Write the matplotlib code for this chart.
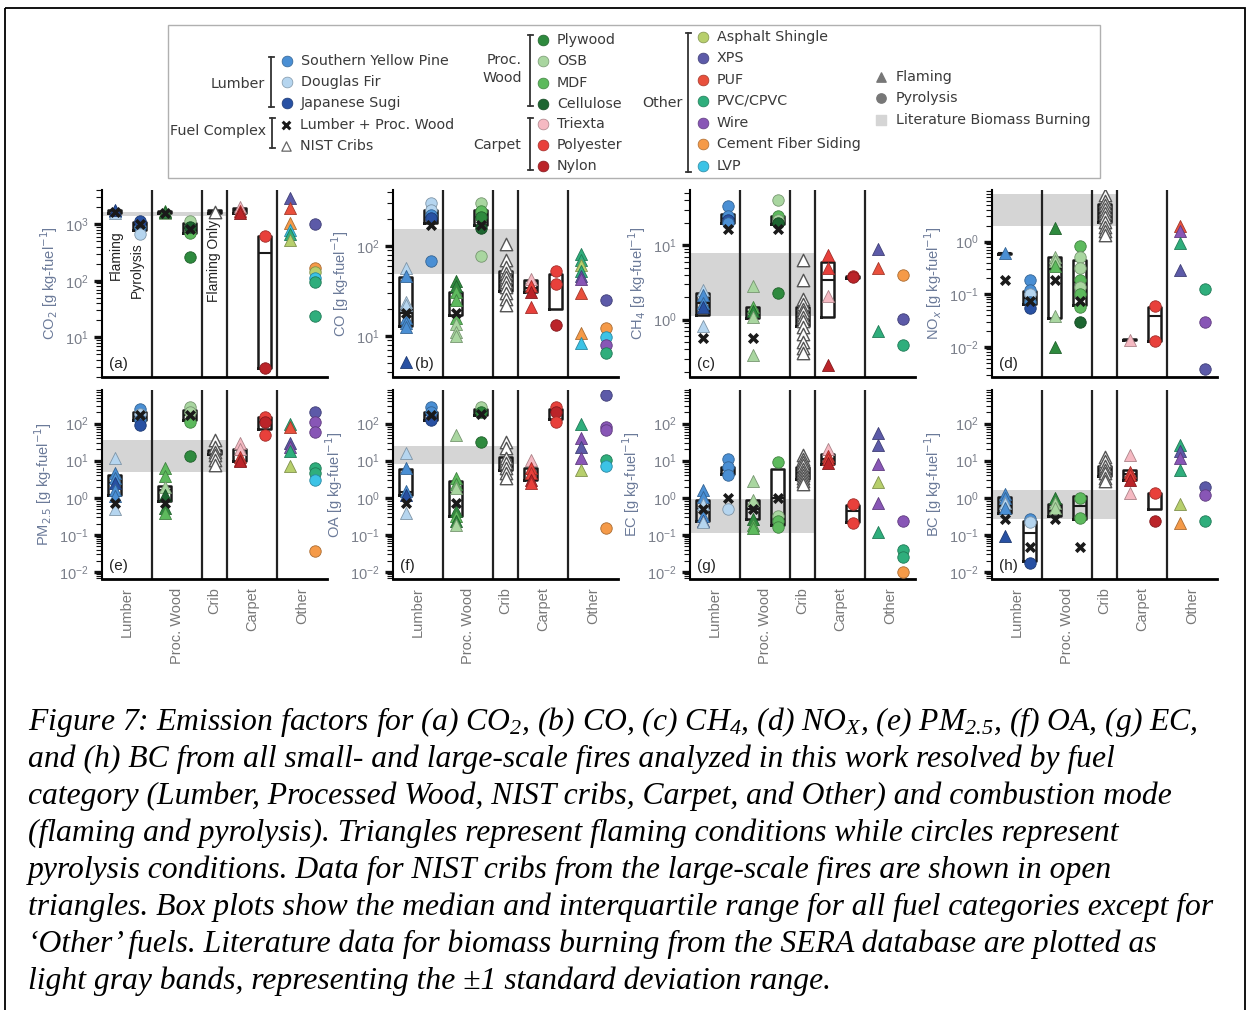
import numpy as np
import matplotlib
matplotlib.use('Agg')
import matplotlib.pyplot as plt
from matplotlib.ticker import LogLocator, NullFormatter, LogFormatterMathtext
from matplotlib.colors import to_rgb
from matplotlib.patches import Rectangle

plt.rcParams['font.family'] = ['Liberation Sans', 'DejaVu Sans']
plt.rcParams['mathtext.rm'] = 'Liberation Serif:italic'
plt.rcParams['mathtext.it'] = 'Liberation Serif:italic'

# fuel colours
colors = {
    'SYP': '#4a8fd4', 'DF': '#b5d5ef', 'JS': '#2851a3',
    'PLY': '#2e8a3e', 'OSB': '#a9d6a0', 'MDF': '#5dba5d', 'CEL': '#1d6631',
    'TRI': '#f5b9c2', 'POL': '#e8403b', 'NYL': '#bb2429',
    'ASP': '#b7cf6c', 'XPS': '#5c5aa8', 'PUF': '#e9503c', 'PVC': '#2fae7c',
    'WIR': '#8856b6', 'CFS': '#f59a48', 'LVP': '#3cc3e6',
}

categories = ['Lumber', 'Proc. Wood', 'Crib', 'Carpet', 'Other']
cat_pos = [1.5, 3.5, 5, 6.5, 8.5]
flaming_x = [1, 3, 6, 8]

# (x position, fuel, emission factor)
co2_pts = [(1, 'SYP', 1700), (1, 'DF', 1600), (1, 'JS', 1800), (1, 'LPW', 1650),
           (2, 'SYP', 900), (2, 'DF', 680), (2, 'JS', 1130), (2, 'LPW', 1000),
           (3, 'MDF', 1700), (3, 'OSB', 1550), (3, 'PLY', 1650), (3, 'LPW', 1600),
           (4, 'OSB', 1130), (4, 'MDF', 700), (4, 'PLY', 260), (4, 'CEL', 900), (4, 'LPW', 820),
           (5, 'NIST', 1650),
           (6, 'TRI', 2000), (6, 'POL', 1700), (6, 'NYL', 1600),
           (7, 'POL', 610), (7, 'NYL', 2.9),
           (8, 'XPS', 2900), (8, 'PUF', 1900), (8, 'CFS', 1050), (8, 'LVP', 780), (8, 'PVC', 680), (8, 'ASP', 520),
           (9, 'XPS', 1000), (9, 'CFS', 170), (9, 'ASP', 145), (9, 'LVP', 110), (9, 'PVC', 95), (9, 'PVC', 24)]
co_pts = [(1, 'DF', 57), (1, 'SYP', 47), (1, 'DF', 24), (1, 'DF', 22), (1, 'SYP', 16), (1, 'SYP', 14),
          (1, 'SYP', 12.6), (1, 'JS', 5.1), (1, 'LPW', 18),
          (2, 'DF', 300), (2, 'DF', 253), (2, 'SYP', 222), (2, 'JS', 205), (2, 'SYP', 68), (2, 'LPW', 173),
          (3, 'PLY', 41), (3, 'PLY', 36), (3, 'MDF', 31), (3, 'MDF', 25), (3, 'MDF', 16), (3, 'OSB', 13.5),
          (3, 'OSB', 11), (3, 'OSB', 10), (3, 'LPW', 18),
          (4, 'OSB', 300), (4, 'MDF', 245), (4, 'PLY', 210), (4, 'CEL', 160), (4, 'OSB', 78), (4, 'LPW', 173),
          (5, 'NIST', 105), (5, 'NIST', 70), (5, 'NIST', 58), (5, 'NIST', 50), (5, 'NIST', 45), (5, 'NIST', 40),
          (5, 'NIST', 35), (5, 'NIST', 30), (5, 'NIST', 26), (5, 'NIST', 22),
          (6, 'TRI', 43), (6, 'POL', 36), (6, 'NYL', 31), (6, 'POL', 21),
          (7, 'POL', 53), (7, 'POL', 38), (7, 'NYL', 13.2),
          (8, 'PVC', 81), (8, 'PVC', 70), (8, 'ASP', 62), (8, 'PVC', 53), (8, 'XPS', 46), (8, 'WIR', 43),
          (8, 'PUF', 30), (8, 'CFS', 10.7), (8, 'LVP', 8.3),
          (9, 'XPS', 25), (9, 'CFS', 12.2), (9, 'LVP', 9.8), (9, 'WIR', 8.0), (9, 'PVC', 6.5)]
ch4_pts = [(1, 'DF', 2.5), (1, 'SYP', 2.15), (1, 'SYP', 1.67), (1, 'JS', 1.5), (1, 'DF', 0.81), (1, 'LPW', 0.57),
           (2, 'SYP', 34), (2, 'SYP', 25), (2, 'JS', 22), (2, 'SYP', 20), (2, 'LPW', 16.7),
           (3, 'OSB', 2.8), (3, 'MDF', 1.5), (3, 'PLY', 1.3), (3, 'OSB', 1.1), (3, 'OSB', 0.34), (3, 'LPW', 0.57),
           (4, 'OSB', 41), (4, 'MDF', 25), (4, 'OSB', 22), (4, 'CEL', 20), (4, 'PLY', 2.3), (4, 'LPW', 16.7),
           (5, 'NIST', 6.3), (5, 'NIST', 3.4), (5, 'NIST', 1.9), (5, 'NIST', 1.6), (5, 'NIST', 1.4), (5, 'NIST', 1.25),
           (5, 'NIST', 1.1), (5, 'NIST', 0.95), (5, 'NIST', 0.8), (5, 'NIST', 0.65), (5, 'NIST', 0.5),
           (5, 'NIST', 0.42), (5, 'NIST', 0.36),
           (6, 'POL', 7.4), (6, 'POL', 4.9), (6, 'TRI', 2.05), (6, 'NYL', 0.25),
           (7, 'POL', 3.9), (7, 'NYL', 3.7),
           (8, 'XPS', 9.0), (8, 'PUF', 4.9), (8, 'PVC', 0.7),
           (9, 'CFS', 4.0), (9, 'XPS', 1.02), (9, 'PVC', 0.46)]
nox_pts = [(1, 'SYP', 0.6), (1, 'LPW', 0.19),
           (2, 'SYP', 0.19), (2, 'SYP', 0.12), (2, 'DF', 0.1), (2, 'SYP', 0.07), (2, 'JS', 0.055), (2, 'LPW', 0.076),
           (3, 'PLY', 1.8), (3, 'OSB', 0.52), (3, 'OSB', 0.43), (3, 'MDF', 0.35), (3, 'OSB', 0.038), (3, 'PLY', 0.010),
           (3, 'LPW', 0.19),
           (4, 'MDF', 0.81), (4, 'OSB', 0.5), (4, 'OSB', 0.31), (4, 'MDF', 0.19), (4, 'OSB', 0.14), (4, 'MDF', 0.1),
           (4, 'MDF', 0.058), (4, 'CEL', 0.030), (4, 'LPW', 0.076),
           (5, 'NIST', 7.5), (5, 'NIST', 6.0), (5, 'NIST', 5.0), (5, 'NIST', 4.2), (5, 'NIST', 3.5), (5, 'NIST', 2.9),
           (5, 'NIST', 2.4), (5, 'NIST', 1.9), (5, 'NIST', 1.6), (5, 'NIST', 1.35),
           (6, 'TRI', 0.0136),
           (7, 'POL', 0.060), (7, 'POL', 0.013),
           (8, 'PUF', 1.95), (8, 'WIR', 1.6), (8, 'PVC', 0.94), (8, 'XPS', 0.29),
           (9, 'PVC', 0.126), (9, 'WIR', 0.030), (9, 'XPS', 0.0039)]
pm_pts = [(1, 'DF', 11.7), (1, 'SYP', 4.6), (1, 'SYP', 3.4), (1, 'JS', 2.5), (1, 'SYP', 1.67), (1, 'SYP', 1.1),
          (1, 'DF', 0.49), (1, 'LPW', 0.71),
          (2, 'SYP', 250), (2, 'DF', 185), (2, 'SYP', 122), (2, 'JS', 90), (2, 'LPW', 167),
          (3, 'MDF', 6.3), (3, 'MDF', 3.8), (3, 'OSB', 1.97), (3, 'CEL', 1.2), (3, 'PLY', 0.54), (3, 'MDF', 0.4),
          (3, 'LPW', 0.71),
          (4, 'OSB', 280), (4, 'OSB', 200), (4, 'MDF', 110), (4, 'PLY', 13.4), (4, 'LPW', 167),
          (5, 'NIST', 36), (5, 'NIST', 24), (5, 'NIST', 17.6), (5, 'NIST', 14.3), (5, 'NIST', 10.5), (5, 'NIST', 7.7),
          (6, 'TRI', 29), (6, 'TRI', 21), (6, 'POL', 12.9), (6, 'POL', 10.5), (6, 'NYL', 9.5),
          (7, 'POL', 150), (7, 'NYL', 111), (7, 'POL', 49),
          (8, 'PVC', 100), (8, 'PUF', 81), (8, 'XPS', 29), (8, 'WIR', 24), (8, 'PVC', 18), (8, 'ASP', 7.0),
          (9, 'XPS', 205), (9, 'WIR', 110), (9, 'WIR', 60), (9, 'PVC', 6.3), (9, 'PVC', 4.6), (9, 'LVP', 3.1),
          (9, 'CFS', 0.038)]
oa_pts = [(1, 'DF', 15.8), (1, 'SYP', 6.3), (1, 'SYP', 1.5), (1, 'JS', 1.2), (1, 'DF', 0.40), (1, 'LPW', 0.71),
          (2, 'SYP', 280), (2, 'SYP', 205), (2, 'JS', 122), (2, 'LPW', 167),
          (3, 'OSB', 49), (3, 'MDF', 3.4), (3, 'MDF', 2.3), (3, 'OSB', 1.8), (3, 'PLY', 0.44), (3, 'MDF', 0.32),
          (3, 'PLY', 0.24), (3, 'OSB', 0.18), (3, 'LPW', 0.71),
          (4, 'OSB', 280), (4, 'PLY', 205), (4, 'PLY', 32.4), (4, 'LPW', 185),
          (5, 'NIST', 32), (5, 'NIST', 21.5), (5, 'NIST', 11.6), (5, 'NIST', 8.6), (5, 'NIST', 6.3), (5, 'NIST', 4.6),
          (5, 'NIST', 3.4),
          (6, 'TRI', 10.5), (6, 'POL', 6.3), (6, 'POL', 4.6), (6, 'NYL', 3.1), (6, 'POL', 2.5),
          (7, 'POL', 280), (7, 'NYL', 205), (7, 'POL', 111),
          (8, 'PVC', 100), (8, 'WIR', 40), (8, 'XPS', 24), (8, 'WIR', 11.6), (8, 'ASP', 5.7),
          (9, 'XPS', 570), (9, 'WIR', 81), (9, 'WIR', 69), (9, 'PVC', 10.5), (9, 'LVP', 7.3), (9, 'CFS', 0.15)]
ec_pts = [(1, 'SYP', 1.6), (1, 'SYP', 1.08), (1, 'DF', 0.66), (1, 'SYP', 0.32), (1, 'JS', 0.24), (1, 'DF', 0.22),
          (1, 'LPW', 0.49),
          (2, 'SYP', 10.9), (2, 'SYP', 6.6), (2, 'SYP', 4.0), (2, 'DF', 0.5), (2, 'LPW', 0.98),
          (3, 'OSB', 2.8), (3, 'OSB', 0.89), (3, 'PLY', 0.27), (3, 'MDF', 0.18), (3, 'MDF', 0.15), (3, 'LPW', 0.49),
          (4, 'MDF', 9.3), (4, 'OSB', 0.32), (4, 'MDF', 0.24), (4, 'MDF', 0.16), (4, 'LPW', 0.98),
          (5, 'NIST', 14), (5, 'NIST', 11), (5, 'NIST', 9), (5, 'NIST', 7.5), (5, 'NIST', 6), (5, 'NIST', 5),
          (5, 'NIST', 4.2), (5, 'NIST', 3.5), (5, 'NIST', 2.9), (5, 'NIST', 2.4),
          (6, 'TRI', 20), (6, 'POL', 13.4), (6, 'POL', 11), (6, 'NYL', 8.6),
          (7, 'POL', 0.66), (7, 'POL', 0.21),
          (8, 'XPS', 55), (8, 'XPS', 27), (8, 'WIR', 8.1), (8, 'ASP', 2.7), (8, 'WIR', 0.72), (8, 'PVC', 0.12),
          (9, 'WIR', 0.24), (9, 'PVC', 0.040), (9, 'PVC', 0.026), (9, 'CFS', 0.010)]
bc_pts = [(1, 'SYP', 1.23), (1, 'SYP', 1.0), (1, 'DF', 0.74), (1, 'SYP', 0.54), (1, 'JS', 0.095), (1, 'LPW', 0.27),
          (2, 'SYP', 0.27), (2, 'DF', 0.22), (2, 'JS', 0.018), (2, 'LPW', 0.046),
          (3, 'PLY', 1.0), (3, 'OSB', 0.74), (3, 'OSB', 0.54), (3, 'LPW', 0.27),
          (4, 'MDF', 1.0), (4, 'MDF', 0.29), (4, 'LPW', 0.046),
          (5, 'NIST', 12.9), (5, 'NIST', 9.5), (5, 'NIST', 7), (5, 'NIST', 5.7), (5, 'NIST', 4.6), (5, 'NIST', 3.4),
          (5, 'NIST', 2.8),
          (6, 'TRI', 14.3), (6, 'POL', 5.1), (6, 'POL', 4.2), (6, 'NYL', 3.1), (6, 'TRI', 1.36),
          (7, 'POL', 1.36), (7, 'NYL', 0.24),
          (8, 'PVC', 26.5), (8, 'XPS', 18.7), (8, 'WIR', 11.6), (8, 'PVC', 5.7), (8, 'ASP', 0.67), (8, 'CFS', 0.21),
          (9, 'XPS', 2.0), (9, 'WIR', 1.2), (9, 'PVC', 0.24)]

# box stats: (x, q1, median, q3)
co2_box = [(1, 1600, 1680, 1780), (2, 800, 950, 1100), (3, 1560, 1620, 1700), (4, 700, 850, 1050),
           (5, 1550, 1650, 1750), (6, 1550, 1750, 1950), (7, 2.9, 310, 610)]
co_box = [(1, 13, 18, 45), (2, 180, 210, 253), (3, 17, 22, 31), (4, 173, 210, 253), (5, 32, 42, 53),
          (6, 31, 34, 42), (7, 20, 38, 49)]
ch4_box = [(1, 1.17, 1.67, 2.27), (2, 20, 23, 26), (3, 1.05, 1.25, 1.5), (4, 19.5, 22, 25), (5, 0.81, 1.1, 1.5),
           (6, 1.1, 3.4, 6.0), (7, 3.6, 3.75, 3.9)]
nox_box = [(1, 0.58, 0.6, 0.62), (2, 0.066, 0.085, 0.115), (3, 0.036, 0.3, 0.52), (4, 0.064, 0.17, 0.44),
           (5, 2.3, 3.5, 5.1), (6, 0.0133, 0.0136, 0.0139), (7, 0.013, 0.038, 0.058)]
pm_box = [(1, 1.2, 2.5, 4.2), (2, 122, 160, 204), (3, 0.82, 1.67, 2.1), (4, 128, 167, 227), (5, 15, 16, 19),
          (6, 9.5, 14, 21), (7, 73, 111, 150)]
oa_box = [(1, 1.2, 1.4, 6.0), (2, 122, 167, 205), (3, 0.32, 1.36, 2.8), (4, 167, 205, 250), (5, 5.7, 8, 12.9),
          (6, 3.1, 4.5, 6.3), (7, 136, 200, 250)]
ec_box = [(1, 0.24, 0.5, 0.88), (2, 4.4, 5.5, 6.6), (3, 0.27, 0.5, 0.89), (4, 0.18, 1.0, 6.0), (5, 3.3, 4.8, 6.6),
          (6, 8.1, 11, 14.8), (7, 0.22, 0.44, 0.64)]
bc_box = [(1, 0.4, 0.6, 1.03), (2, 0.02, 0.11, 0.24), (3, 0.32, 0.45, 0.66), (4, 0.27, 0.6, 1.1), (5, 3.8, 5, 7),
          (6, 3.1, 4.5, 5.7), (7, 0.51, 1.3, 1.36)]

# literature biomass burning band (mean +/- 1 sd)
bands = [(1380, 1650), (49, 154), (1.13, 7.8), (2.0, 7.9), (4.8, 36), (8.3, 25), (0.11, 0.9), (0.27, 1.63)]
ylims = [(2, 4000), (3.5, 420), (0.17, 55), (0.0027, 9.5),
         (0.0065, 800), (0.0065, 800), (0.0065, 800), (0.0065, 800)]
ylabels = ['CO$_2$', 'CO', 'CH$_4$', 'NO$_x$', 'PM$_{2.5}$', 'OA', 'EC', 'BC']
letters = ['(a)', '(b)', '(c)', '(d)', '(e)', '(f)', '(g)', '(h)']
all_pts = [co2_pts, co_pts, ch4_pts, nox_pts, pm_pts, oa_pts, ec_pts, bc_pts]
all_box = [co2_box, co_box, ch4_box, nox_box, pm_box, oa_box, ec_box, bc_box]


def darker(c, f=0.7):
    r, g, b = to_rgb(c)
    return (r * f, g * f, b * f)


def draw_panel(ax, pts, boxes, band, ylim, ylabel, letter, show_cats):
    ax.set_yscale('log')
    ax.set_xlim(0.5, 9.5)
    ax.set_ylim(*ylim)
    ax.fill_between([0.5, 5.5], band[0], band[1], color='#d5d5d5', lw=0, zorder=0)
    for s in [2.5, 4.5, 5.5, 7.5]:
        ax.axvline(s, color='#222222', lw=1.6, zorder=1)
    stats = [dict(med=m, q1=lo, q3=hi, whislo=lo, whishi=hi, fliers=[]) for x, lo, m, hi in boxes]
    ax.bxp(stats, positions=[b[0] for b in boxes], widths=0.5, showcaps=False, showfliers=False,
           boxprops=dict(color='#1a1a1a', lw=1.8), medianprops=dict(color='#1a1a1a', lw=1.5),
           whiskerprops=dict(lw=0), manage_ticks=False, zorder=2)
    for x, fuel, v in pts:
        if fuel == 'LPW':
            ax.scatter(x, v, marker='x', s=38, linewidths=2.6, color='#1a1a1a', zorder=5)
        elif fuel == 'NIST':
            ax.scatter(x, v, marker='^', s=80, facecolor='white', edgecolor='#555555', linewidths=1.0, zorder=3)
        else:
            mk = '^' if x in flaming_x else 'o'
            ax.scatter(x, v, marker=mk, s=75 if mk == '^' else 68, color=colors[fuel],
                       edgecolor=darker(colors[fuel]), linewidths=0.6, zorder=3)
    ax.yaxis.set_major_locator(LogLocator(base=10, numticks=20))
    ax.yaxis.set_major_formatter(LogFormatterMathtext())
    ax.yaxis.set_minor_locator(LogLocator(base=10, subs=np.arange(2, 10), numticks=100))
    ax.yaxis.set_minor_formatter(NullFormatter())
    ax.tick_params(axis='y', which='major', length=6, width=2.4, color='#111111', labelcolor='#7a7f8a',
                   labelsize=10.5)
    ax.tick_params(axis='y', which='minor', length=4, width=0.8, color='#111111')
    ax.set_xticks(cat_pos)
    ax.set_xticklabels(categories if show_cats else [''] * 5, rotation=90, color='#777777', fontsize=10.5)
    ax.tick_params(axis='x', length=0, pad=6)
    for sp in ['top', 'right']:
        ax.spines[sp].set_visible(False)
    ax.spines['left'].set_linewidth(1.5)
    ax.spines['bottom'].set_linewidth(2.0)
    ax.set_ylabel(ylabel + ' [g kg-fuel$^{-1}$]', color='#6b7a99', fontsize=10.5)
    lx = 0.1 if letter == '(b)' else 0.03
    ax.text(lx, 0.03, letter, transform=ax.transAxes, fontsize=11, color='#222222', va='bottom')


fig = plt.figure(figsize=(12.5, 10.1), dpi=100)
ov = fig.add_axes([0, 0, 1, 1])
ov.set_xlim(0, 1250)
ov.set_ylim(1010, 0)
ov.axis('off')

# page frame
ov.add_patch(Rectangle((5, 8), 1240, 1010, fill=False, ec='black', lw=1.3, clip_on=False))

lefts = [102, 393, 690, 992]
for i in range(8):
    l = lefts[i % 4]
    top, h = (190, 187) if i < 4 else (390, 189)
    ax = fig.add_axes([l / 1250, 1 - (top + h) / 1010, 225 / 1250, h / 1010])
    draw_panel(ax, all_pts[i], all_box[i], bands[i], ylims[i], ylabels[i], letters[i], i >= 4)
    if i == 0:
        tr = ax.get_xaxis_transform()
        ax.text(1.05, 0.65, 'Flaming', transform=tr, rotation=90, ha='center', va='center', fontsize=10,
                color='#222')
        ax.text(1.9, 0.57, 'Pyrolysis', transform=tr, rotation=90, ha='center', va='center', fontsize=10,
                color='#222')
        ax.text(4.98, 0.62, 'Flaming Only', transform=tr, rotation=90, ha='center', va='center', fontsize=10,
                color='#222')

# legend
ov.add_patch(Rectangle((168, 25), 932, 153, fill=False, ec='#b0b0b0', lw=1.0))
lfont = dict(fontsize=10.3, color='#3a3a3a', family='DejaVu Sans', va='center')


def bracket(x, y0, y1):
    ov.plot([x, x], [y0, y1], color='#333333', lw=1.3)
    ov.plot([x - 2.5, x + 2.5], [y0, y0], color='#333333', lw=1.3)
    ov.plot([x - 2.5, x + 2.5], [y1, y1], color='#333333', lw=1.3)


def leg_items(xm, ys, keys, names, mk='o'):
    for y, k, n in zip(ys, keys, names):
        ov.scatter(xm, y, marker=mk, s=60, color=colors[k], edgecolor=darker(colors[k]), linewidths=0.5)
        ov.text(xm + 14, y, n, **lfont)


ov.text(265, 84, 'Lumber', ha='right', **lfont)
bracket(271, 57, 107)
leg_items(287, [61, 82, 103], ['SYP', 'DF', 'JS'], ['Southern Yellow Pine', 'Douglas Fir', 'Japanese Sugi'])
ov.text(266, 131, 'Fuel Complex', ha='right', **lfont)
bracket(272, 118, 148)
ov.scatter(286, 125, marker='x', s=30, linewidths=2.2, color='#1a1a1a')
ov.text(300, 125, 'Lumber + Proc. Wood', **lfont)
ov.scatter(286, 146, marker='^', s=45, facecolor='white', edgecolor='#666666', linewidths=0.9)
ov.text(300, 146, 'NIST Cribs', **lfont)

ov.text(522, 69, 'Proc.\nWood', ha='right', multialignment='right', linespacing=1.3, **lfont)
bracket(530, 35, 106)
leg_items(543, [40, 61, 83, 104], ['PLY', 'OSB', 'MDF', 'CEL'], ['Plywood', 'OSB', 'MDF', 'Cellulose'])
ov.text(521, 145, 'Carpet', ha='right', **lfont)
bracket(530, 118, 170)
leg_items(543, [124, 145, 166], ['TRI', 'POL', 'NYL'], ['Triexta', 'Polyester', 'Nylon'])

ov.text(683, 103, 'Other', ha='right', **lfont)
bracket(688, 33, 172)
leg_items(703, [37, 58, 80, 101, 123, 144, 166], ['ASP', 'XPS', 'PUF', 'PVC', 'WIR', 'CFS', 'LVP'],
          ['Asphalt Shingle', 'XPS', 'PUF', 'PVC/CPVC', 'Wire', 'Cement Fiber Siding', 'LVP'])

ov.scatter(881, 77, marker='^', s=45, color='#777777')
ov.text(896, 77, 'Flaming', **lfont)
ov.scatter(881, 98, marker='o', s=45, color='#777777')
ov.text(896, 98, 'Pyrolysis', **lfont)
ov.scatter(881, 120, marker='s', s=45, color='#d5d5d5')
ov.text(896, 120, 'Literature Biomass Burning', **lfont)

# caption
caption = [
    'Figure 7: Emission factors for (a) CO$_2$, (b) CO, (c) CH$_4$, (d) NO$_X$, (e) PM$_{2.5}$, (f) OA, (g) EC,',
    'and (h) BC from all small- and large-scale fires analyzed in this work resolved by fuel',
    'category (Lumber, Processed Wood, NIST cribs, Carpet, and Other) and combustion mode',
    '(flaming and pyrolysis). Triangles represent flaming conditions while circles represent',
    'pyrolysis conditions. Data for NIST cribs from the large-scale fires are shown in open',
    'triangles. Box plots show the median and interquartile range for all fuel categories except for',
    '\u2018Other\u2019 fuels. Literature data for biomass burning from the SERA database are plotted as',
    'light gray bands, representing the \u00b11 standard deviation range.',
]
for k, line in enumerate(caption):
    ov.text(28, 722 + 37 * k, line, fontsize=22.8, fontstyle='italic', family=['Liberation Serif', 'DejaVu Serif'],
            va='center', ha='left', color='black', math_fontfamily='custom')

fig.savefig('out.png', dpi=100)
